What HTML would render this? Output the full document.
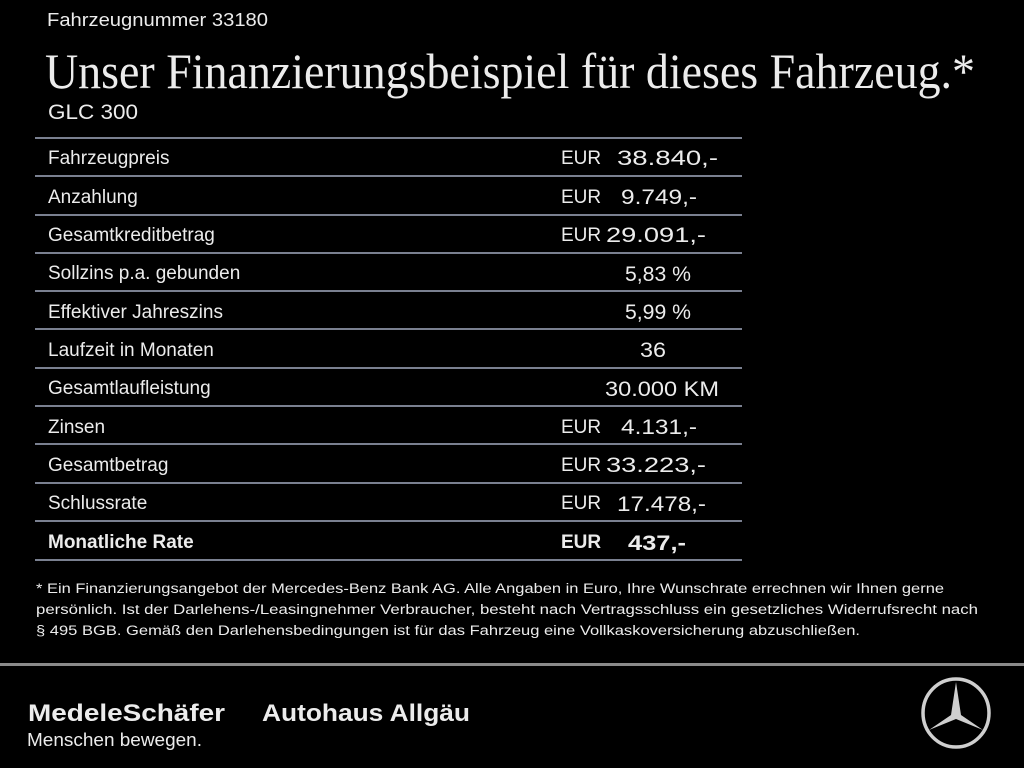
<!DOCTYPE html>
<html><head><meta charset="utf-8"><style>
html,body{margin:0;padding:0;background:#000;}
svg{display:block}
text{fill:#ececec;font-family:"Liberation Sans",sans-serif}
</style></head><body>
<svg width="1024" height="768" viewBox="0 0 1024 768" xmlns="http://www.w3.org/2000/svg">
<rect width="1024" height="768" fill="#000"/>
<text x="47" y="26" font-size="18" textLength="221" lengthAdjust="spacingAndGlyphs">Fahrzeugnummer 33180</text>
<text x="45" y="88" font-size="50" style="font-family:'Liberation Serif',serif" textLength="930" lengthAdjust="spacingAndGlyphs">Unser Finanzierungsbeispiel für dieses Fahrzeug.*</text>
<text x="48" y="119" font-size="21" textLength="90" lengthAdjust="spacingAndGlyphs">GLC 300</text>
<g stroke="#7a8090" stroke-width="2">
<line x1="35" x2="742" y1="138" y2="138"/><line x1="35" x2="742" y1="176" y2="176"/>
<line x1="35" x2="742" y1="215" y2="215"/><line x1="35" x2="742" y1="253" y2="253"/>
<line x1="35" x2="742" y1="291" y2="291"/><line x1="35" x2="742" y1="329" y2="329"/>
<line x1="35" x2="742" y1="368" y2="368"/><line x1="35" x2="742" y1="406" y2="406"/>
<line x1="35" x2="742" y1="444" y2="444"/><line x1="35" x2="742" y1="483" y2="483"/>
<line x1="35" x2="742" y1="521" y2="521"/><line x1="35" x2="742" y1="560" y2="560"/>
</g>
<g font-size="19">
<text x="48" y="164">Fahrzeugpreis</text>
<text x="48" y="203">Anzahlung</text>
<text x="48" y="241">Gesamtkreditbetrag</text>
<text x="48" y="279">Sollzins p.a. gebunden</text>
<text x="48" y="318">Effektiver Jahreszins</text>
<text x="48" y="356">Laufzeit in Monaten</text>
<text x="48" y="394">Gesamtlaufleistung</text>
<text x="48" y="433">Zinsen</text>
<text x="48" y="471">Gesamtbetrag</text>
<text x="48" y="509">Schlussrate</text>
<text x="48" y="548" font-weight="bold">Monatliche Rate</text>
<text x="561" y="164">EUR</text><text x="561" y="203">EUR</text><text x="561" y="241">EUR</text>
<text x="561" y="433">EUR</text><text x="561" y="471">EUR</text><text x="561" y="509">EUR</text>
<text x="561" y="548" font-weight="bold">EUR</text>
</g>
<g font-size="21">
<text x="617" y="165" textLength="101" lengthAdjust="spacingAndGlyphs">38.840,-</text>
<text x="621" y="204" textLength="76" lengthAdjust="spacingAndGlyphs">9.749,-</text>
<text x="606" y="242" textLength="100" lengthAdjust="spacingAndGlyphs">29.091,-</text>
<text x="625" y="281" textLength="66" lengthAdjust="spacingAndGlyphs">5,83 %</text>
<text x="625" y="319" textLength="66" lengthAdjust="spacingAndGlyphs">5,99 %</text>
<text x="640" y="357" textLength="26" lengthAdjust="spacingAndGlyphs">36</text>
<text x="605" y="396" textLength="114" lengthAdjust="spacingAndGlyphs">30.000 KM</text>
<text x="621" y="434" textLength="76" lengthAdjust="spacingAndGlyphs">4.131,-</text>
<text x="606" y="472" textLength="100" lengthAdjust="spacingAndGlyphs">33.223,-</text>
<text x="617" y="511" textLength="89" lengthAdjust="spacingAndGlyphs">17.478,-</text>
<text x="628" y="550" font-weight="bold" textLength="58" lengthAdjust="spacingAndGlyphs">437,-</text>
</g>
<g font-size="13.5">
<text x="36" y="593" textLength="908" lengthAdjust="spacingAndGlyphs">* Ein Finanzierungsangebot der Mercedes-Benz Bank AG. Alle Angaben in Euro, Ihre Wunschrate errechnen wir Ihnen gerne</text>
<text x="36" y="614" textLength="942" lengthAdjust="spacingAndGlyphs">persönlich. Ist der Darlehens-/Leasingnehmer Verbraucher, besteht nach Vertragsschluss ein gesetzliches Widerrufsrecht nach</text>
<text x="36" y="635" textLength="824" lengthAdjust="spacingAndGlyphs">§ 495 BGB. Gemäß den Darlehensbedingungen ist für das Fahrzeug eine Vollkaskoversicherung abzuschließen.</text>
</g>
<rect x="0" y="663" width="1024" height="3" fill="#8a8a8a"/>
<text x="28" y="721" font-size="24" font-weight="bold" textLength="197" lengthAdjust="spacingAndGlyphs">MedeleSchäfer</text>
<text x="262" y="721" font-size="24" font-weight="bold" textLength="208" lengthAdjust="spacingAndGlyphs">Autohaus Allgäu</text>
<text x="27" y="746" font-size="18" textLength="175" lengthAdjust="spacingAndGlyphs">Menschen bewegen.</text>
<g transform="translate(956,713)" fill="none" stroke="#cfcfcf">
<ellipse rx="33" ry="34" stroke-width="3.5"/>
<path d="M0,-31 L5,2 L27,17 L0,6 L-27,17 L-5,2 Z" fill="#cfcfcf" stroke="none"/>
</g>
</svg>
</body></html>
